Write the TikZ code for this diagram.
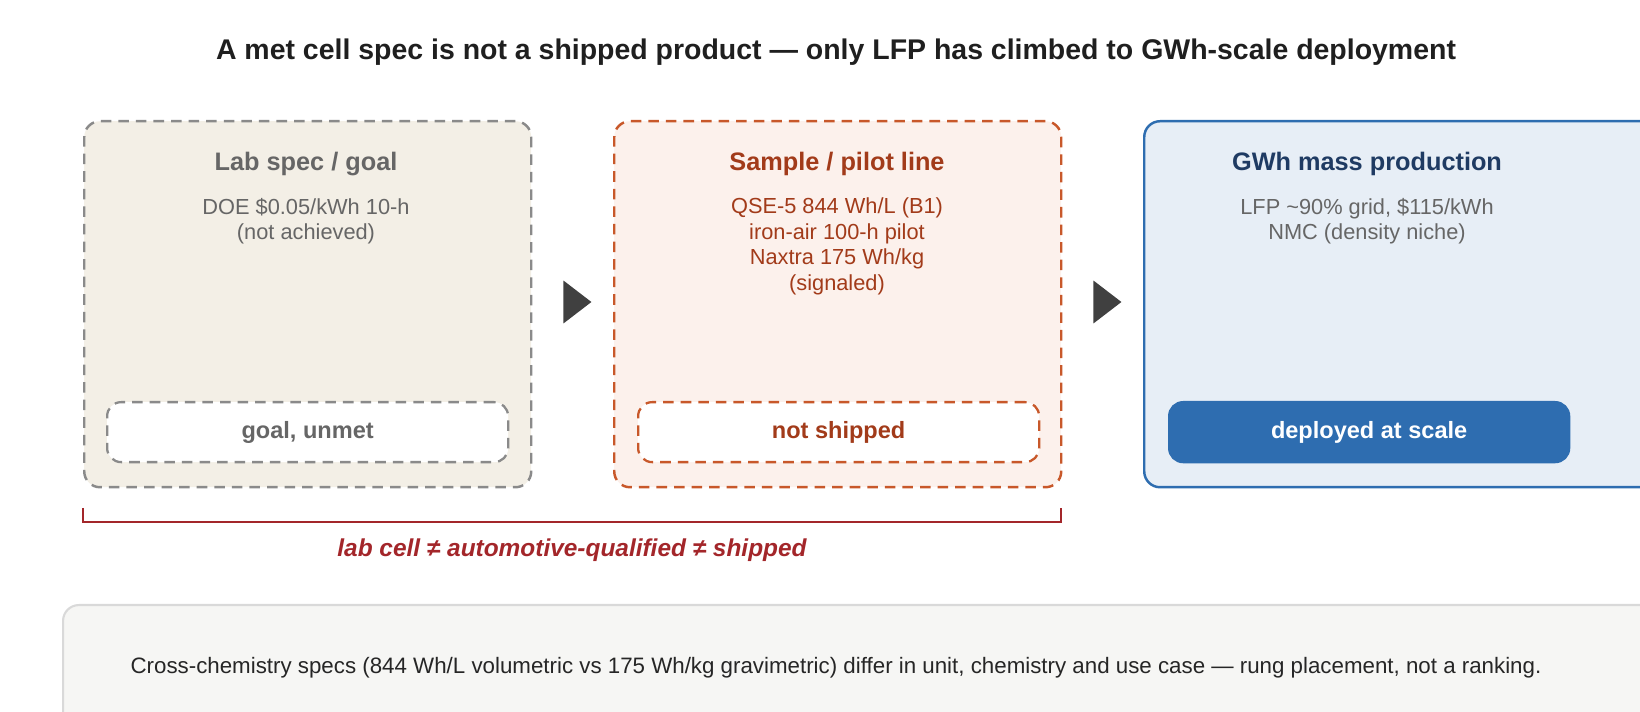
\documentclass[tikz,border=0pt]{standalone}
\usepackage{fontspec}
\setmainfont{Liberation Sans}
\usetikzlibrary{positioning,shapes.geometric}
\definecolor{labfill}{HTML}{F3EFE6}
\definecolor{labline}{HTML}{8A8A8A}
\definecolor{labtext}{HTML}{666666}
\definecolor{pilfill}{HTML}{FCF1EC}
\definecolor{pilline}{HTML}{C8582A}
\definecolor{piltext}{HTML}{A23B1A}
\definecolor{gwfill}{HTML}{E7EEF6}
\definecolor{gwline}{HTML}{2E6DB0}
\definecolor{gwtext}{HTML}{1F3B63}
\definecolor{redtext}{HTML}{A3262A}
\definecolor{notefill}{HTML}{F6F6F4}
\newlength{\pxu}
\setlength{\pxu}{0.02cm}
\tikzset{
  rung/.style = {draw, line width=1.4pt, rounded corners=9pt, minimum width=447\pxu, minimum height=366\pxu, anchor=north west},
  tag/.style = {draw, line width=1.3pt, rounded corners=8pt, minimum width=401\pxu, minimum height=60\pxu, anchor=north west, font=\fontsize{13.4}{16}\selectfont\bfseries},
  head/.style = {font=\fontsize{14.4}{17}\selectfont\bfseries, anchor=north},
  body/.style = {font=\fontsize{12.4}{14.5}\selectfont, align=center, anchor=north},
  rungstep/.style = {isosceles triangle, isosceles triangle apex angle=75, fill=black!75, inner sep=0pt, minimum height=28\pxu, minimum width=36\pxu}
}
\begin{document}
\begin{tikzpicture}[x=0.02cm, y=-0.02cm]
  \useasboundingbox (0,0) rectangle (1640,712);
  \begin{scope}
    \clip (0,0) rectangle (1640,712);
    % title
    \node[font=\fontsize{16.2}{19}\selectfont\bfseries, text=black!88] (title) at (836,52) {A met cell spec is not a shipped product — only LFP has climbed to GWh-scale deployment};
    % rungs
    \node[rung, dashed, dash pattern=on 6pt off 4pt, draw=labline, fill=labfill] (lab) at (83,120) {};
    \node[rung, dashed, dash pattern=on 6pt off 4pt, draw=pilline, fill=pilfill] (pilot) at (613,120) {};
    \node[rung, draw=gwline, fill=gwfill, minimum width=600\pxu] (mass) at (1143,120) {};
    \node[head, text=labtext] (labhead) at (306,146) {Lab spec / goal};
    \node[body, text=labtext] (labbody) at (306,192) {DOE \$0.05/kWh 10-h\\(not achieved)};
    \node[head, text=piltext] (pilhead) at (837,146) {Sample / pilot line};
    \node[body, text=piltext] (pilbody) at (837,192) {QSE-5 844 Wh/L (B1)\\iron-air 100-h pilot\\Naxtra 175 Wh/kg\\(signaled)};
    \node[head, text=gwtext] (gwhead) at (1367,146) {GWh mass production};
    \node[body, text=labtext] (gwbody) at (1367,192) {LFP \textasciitilde90\% grid, \$115/kWh\\NMC (density niche)};
    % tags
    \node[tag, dashed, dash pattern=on 6pt off 4pt, draw=labline, fill=white, text=labtext] (labtag) at (106,401) {goal, unmet};
    \node[tag, dashed, dash pattern=on 6pt off 4pt, draw=pilline, fill=white, text=piltext] (piltag) at (637,401) {not shipped};
    \node[tag, draw=gwline, fill=gwline, text=white, minimum width=400\pxu] (gwtag) at (1168,401) {deployed at scale};
    % steps
    \node[rungstep] (step1) at (574,302) {};
    \node[rungstep] (step2) at (1104,302) {};
    % bracket
    \coordinate (bl) at (83,508);
    \coordinate (br) at (1061,508);
    \draw[redtext, line width=1.4pt] (bl) -- ++(0,14) -| (br);
    \node[font=\fontsize{13.9}{16}\selectfont\bfseries\itshape, text=redtext] (gap) at (572,550) {lab cell ≠ automotive-qualified ≠ shipped};
    % note
    \node[draw=black!15, line width=1.2pt, fill=notefill, rounded corners=9pt, minimum width=1640\pxu, minimum height=130\pxu, anchor=north west] (note) at (62,604) {};
    \node[font=\fontsize{12.7}{15}\selectfont, text=black!85] (notetext) at (836,668) {Cross-chemistry specs (844 Wh/L volumetric vs 175 Wh/kg gravimetric) differ in unit, chemistry and use case — rung placement, not a ranking.};
  \end{scope}
\end{tikzpicture}
\end{document}
